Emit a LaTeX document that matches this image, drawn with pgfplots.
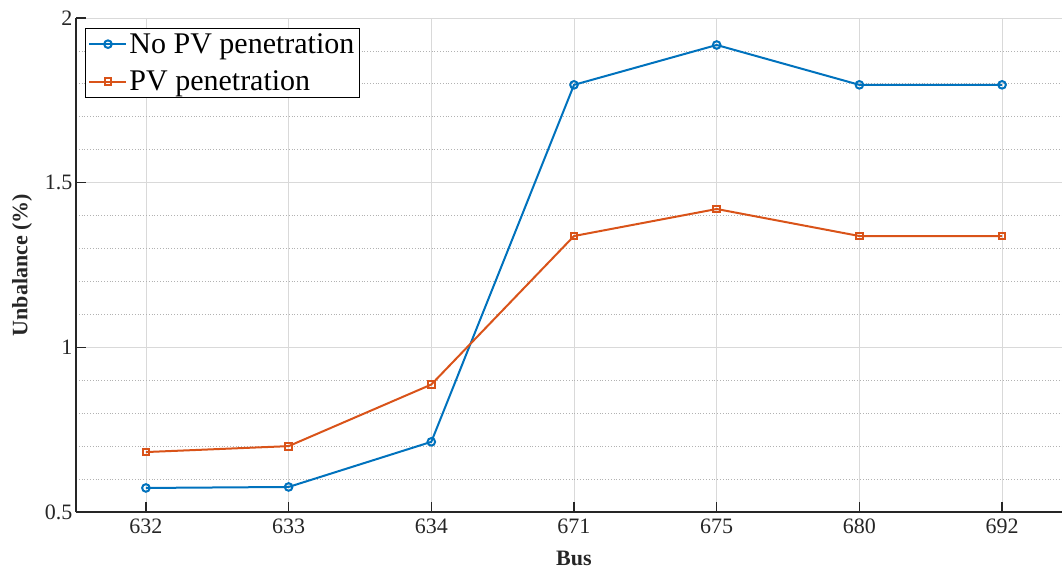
\documentclass[border=0pt]{standalone}
\usepackage{pgfplots}
\pgfplotsset{compat=1.18}
\usepackage{fontspec}
\setmainfont{Liberation Serif}
\definecolor{mblue}{RGB}{0,114,189}
\definecolor{morange}{RGB}{217,83,25}
\definecolor{axgray}{RGB}{38,38,38}
\begin{document}
\begin{tikzpicture}
\path[use as bounding box] (0,0) rectangle (1062pt,570pt);
\begin{axis}[
  at={(76pt,58pt)}, anchor=south west,
  width=986pt, height=494pt, scale only axis,
  xmin=-0.49, xmax=6.42, ymin=0.5, ymax=2,
  axis x line*=bottom, axis y line*=left,
  axis line style={-, axgray, line width=1.2pt},
  xtick={0,1,2,3,4,5,6},
  xticklabels={632,633,634,671,675,680,692},
  ytick={0.5,1,1.5,2},
  yticklabels={0.5,1,1.5,2},
  minor y tick num=4,
  tick align=inside,
  major tick length=10pt, minor tick length=0pt,
  tick style={axgray, line width=1.2pt},
  xmajorgrids, ymajorgrids, yminorgrids,
  major grid style={black!15, line width=0.8pt, solid},
  minor grid style={black!30, line width=0.8pt, dotted},
  ticklabel style={font=\fontsize{22}{26}\selectfont, text=axgray},
  /pgf/number format/assume math mode=true,
  xticklabel style={yshift=-3pt},
  xlabel={\textbf{Bus}},
  ylabel={\textbf{Unbalance (\%)}},
  label style={font=\fontsize{22}{26}\selectfont, text=axgray},
  xlabel style={at={(axis description cs:0.505,-0.093)}, anchor=center},
  ylabel style={at={(axis description cs:-0.0548,0.5)}, anchor=center},
  legend style={at={(axis description cs:0.009,0.98)}, anchor=north west,
    draw=black, line width=1.2pt, fill=white,
    font=\fontsize{30}{34}\selectfont, inner sep=3pt,
    row sep=12pt},
  legend cell align=left,
  legend image code/.code={
    \draw[mark repeat=2,mark phase=2,line width=2pt,#1] plot coordinates {(0cm,0cm) (0.65cm,0cm) (1.3cm,0cm)};},
]
\addplot[mblue, line width=2pt, mark=o, mark size=3.8pt, mark options={solid, line width=2pt}]
  coordinates {(0,0.573) (1,0.576) (2,0.713) (3,1.797) (4,1.918) (5,1.797) (6,1.797)};
\addlegendentry{No PV penetration}
\addplot[morange, line width=2pt, mark=square, mark size=3.4pt, mark options={solid, line width=2pt}]
  coordinates {(0,0.682) (1,0.700) (2,0.887) (3,1.338) (4,1.420) (5,1.338) (6,1.338)};
\addlegendentry{PV penetration}
\end{axis}
\end{tikzpicture}
\end{document}
